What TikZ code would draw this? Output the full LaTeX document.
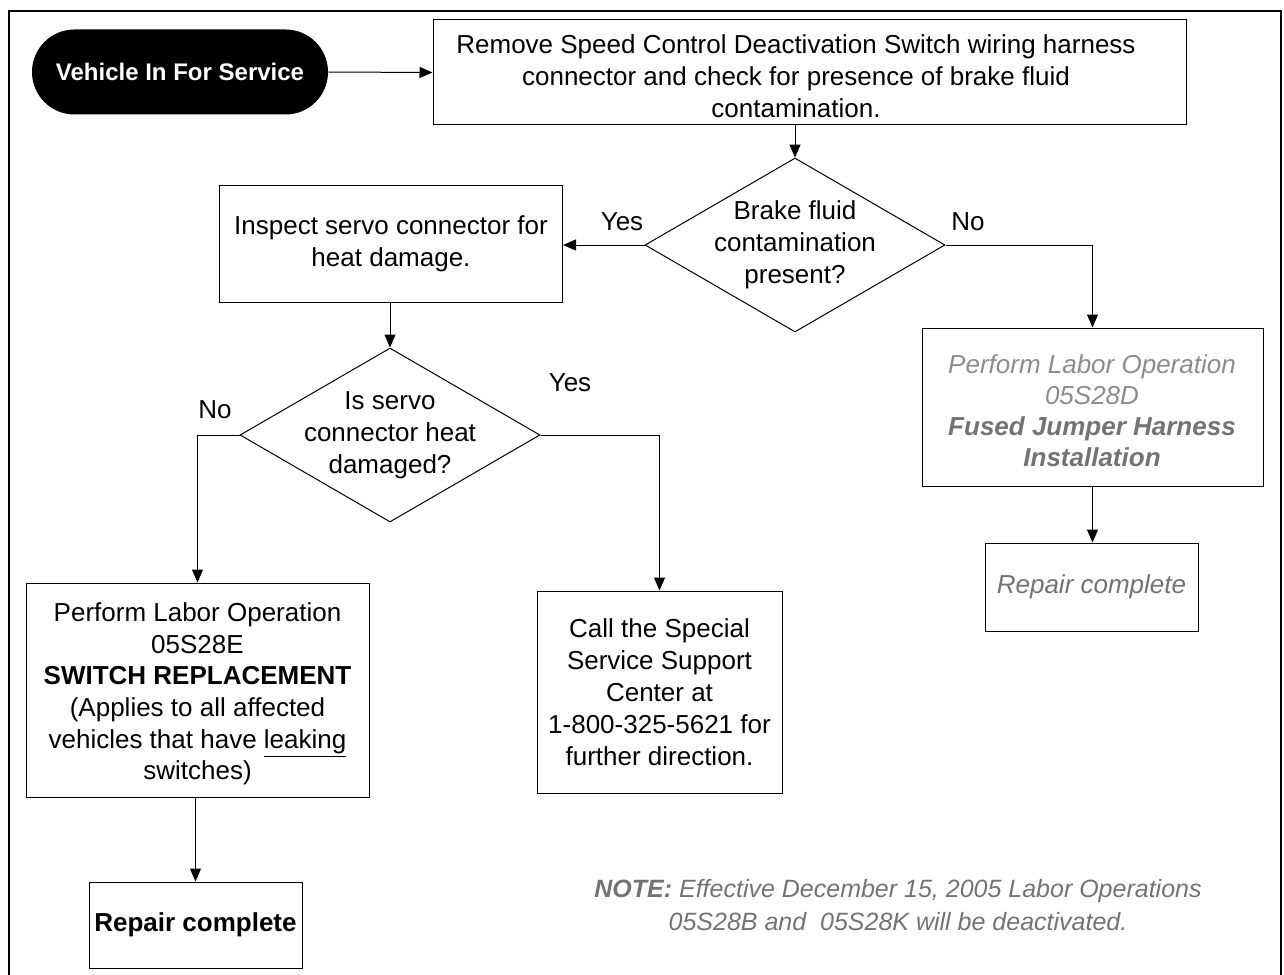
\documentclass[tikz,border=0pt]{standalone}
\usepackage{fontspec}
\setmainfont{Liberation Sans}
\usetikzlibrary{shapes.geometric,arrows.meta}
\definecolor{notegray}{gray}{0.45}
\definecolor{lightgray}{gray}{0.55}
\tikzset{
  box/.style={draw, line width=0.5pt, inner sep=0pt, align=center,
    font=\fontsize{13}{16}\selectfont},
  dia/.style={draw, line width=0.5pt, shape=diamond, inner sep=0pt,
    minimum width=150pt, minimum height=87pt},
  txt/.style={align=center, font=\fontsize{13}{16}\selectfont, inner sep=0pt},
  lab/.style={font=\fontsize{13}{16}\selectfont, inner sep=0pt},
  arr/.style={line width=0.5pt, -{Triangle[length=6.5pt,width=5.5pt]}},
}
\begin{document}
\begin{tikzpicture}[x=0.5pt,y=-0.5pt]
\useasboundingbox (0,0) rectangle (1284,974);
\draw[line width=1pt] (9,11) rectangle (1281,1010);

\node[fill=black, rounded corners=21.25pt, minimum width=148pt, minimum height=42.5pt,
  inner sep=0pt, text=white, font=\bfseries\fontsize{12}{14}\selectfont] (start) at (180,72)
  {Vehicle In For Service};

\node[box, minimum width=376.5pt, minimum height=52.5pt] (b1) at (809.5,72.5) {};
\node[txt] (t1) at (796,76)
  {Remove Speed Control Deactivation Switch wiring harness\\
   connector and check for presence of brake fluid\\
   contamination.};

\node[dia] (d1) at (795,245) {};
\node[txt] (td1) at (d1) {Brake fluid\\contamination\\present?};

\node[box, minimum width=171.5pt, minimum height=58.5pt] (b2) at (391,243.5)
  {Inspect servo connector for\\heat damage.};

\node[dia] (d2) at (390,435) {};
\node[txt] (td2) at (d2) {Is servo\\connector heat\\damaged?};

\node[box, minimum width=171.5pt, minimum height=107pt] (b3) at (197.5,690) {};
\node[txt, font=\fontsize{13}{15.8}\selectfont] (t3) at (197.5,694)
  {Perform Labor Operation\\05S28E\\\textbf{SWITCH REPLACEMENT}\\(Applies to all affected\\
   vehicles that have \underline{leaking}\\switches)};

\node[box, minimum width=106.5pt, minimum height=43pt] (b4) at (195.5,925)
  {\textbf{Repair complete}};

\node[box, minimum width=122.5pt, minimum height=101pt] (b5) at (659.5,692)
  {Call the Special\\Service Support\\Center at\\1-800-325-5621 for\\further direction.};

\node[box, minimum width=170.5pt, minimum height=79pt] (b6) at (1092.5,407) {};
\node[txt, font=\fontsize{13}{15.5}\selectfont] (t6) at (1092,411)
  {\textcolor{lightgray}{\itshape Perform Labor Operation}\\
   \textcolor{lightgray}{\itshape 05S28D}\\
   \textcolor{notegray}{\bfseries\itshape Fused Jumper Harness}\\
   \textcolor{notegray}{\bfseries\itshape Installation}};

\node[box, minimum width=106.5pt, minimum height=44pt] (b7) at (1091.5,587)
  {\textcolor{notegray}{\itshape Repair complete}};

\node[txt, text=notegray, font=\itshape\fontsize{12.5}{16.5}\selectfont] (note) at (898,905)
  {\textbf{NOTE:} Effective December 15, 2005 Labor Operations\\
   05S28B and\ \ 05S28K will be deactivated.};

\node[lab] (y1) at (622,222) {Yes};
\node[lab] (n1) at (968,222) {No};
\node[lab] (n2) at (215,410) {No};
\node[lab] (y2) at (570,383) {Yes};

\draw[arr] (start.east) -- (b1.west);
\draw[arr] (d1.north |- b1.south) -- (d1.north);
\draw[arr] (d1.west) -- (d1.west -| b2.east);
\draw[arr] (d2.north |- b2.south) -- (d2.north);
\draw[arr] (d2.west) -| (b3.north);
\draw[arr] (d2.east) -| (b5.north);
\draw[arr] (d1.east) -| (b6.north);
\draw[arr] (b4.north |- b3.south) -- (b4.north);
\draw[arr] (b6.south) -- (b6.south |- b7.north);
\end{tikzpicture}
\end{document}
